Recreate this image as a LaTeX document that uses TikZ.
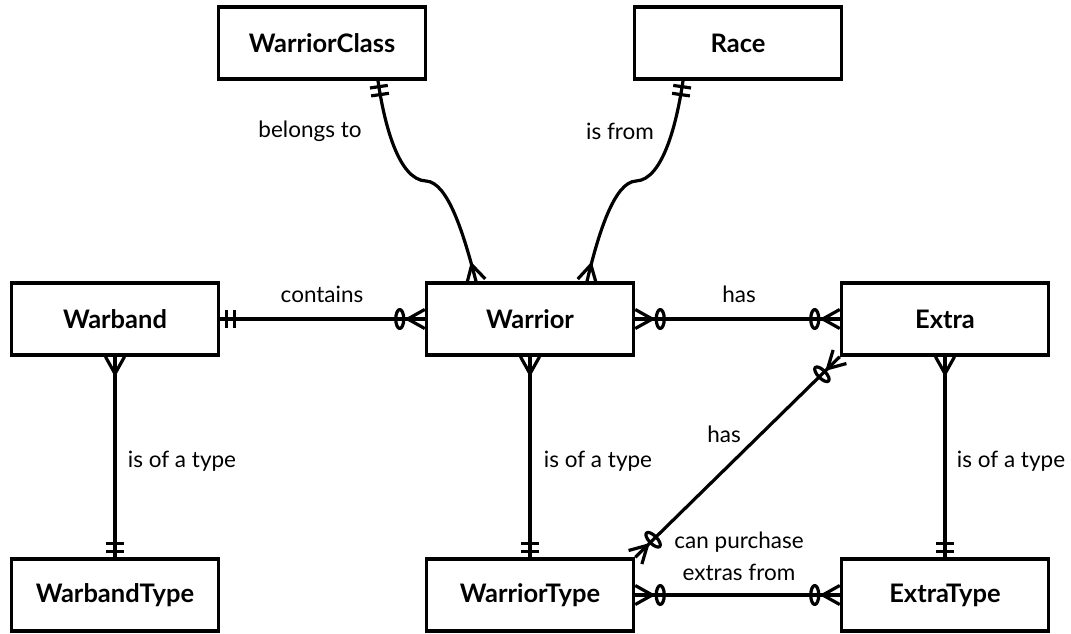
\documentclass[tikz,border=0pt]{standalone}
\usepackage{fontspec}
\setmainfont{Lato}
\usetikzlibrary{arrows.meta}

% crow's foot ends (tip sits on the entity border)
\pgfdeclarearrow{
  name = One,
  setup code = {
    \pgfarrowssettipend{0pt}
    \pgfarrowssetlineend{0pt}
    \pgfarrowssetbackend{-16pt}
    \pgfarrowssetvisualbackend{-16pt}
    \pgfarrowshullpoint{0pt}{9pt}
    \pgfarrowshullpoint{-16pt}{-9pt}
  },
  drawing code = {
    \pgfpathmoveto{\pgfqpoint{-6pt}{9pt}}
    \pgfpathlineto{\pgfqpoint{-6pt}{-9pt}}
    \pgfpathmoveto{\pgfqpoint{-14pt}{9pt}}
    \pgfpathlineto{\pgfqpoint{-14pt}{-9pt}}
    \pgfusepathqstroke
  }
}
\pgfdeclarearrow{
  name = Many,
  setup code = {
    \pgfarrowssettipend{0pt}
    \pgfarrowssetlineend{0pt}
    \pgfarrowssetbackend{-18pt}
    \pgfarrowssetvisualbackend{-18pt}
    \pgfarrowshullpoint{0pt}{10pt}
    \pgfarrowshullpoint{-18pt}{-10pt}
  },
  drawing code = {
    \pgfsetroundjoin
    \pgfpathmoveto{\pgfqpoint{0pt}{9.5pt}}
    \pgfpathlineto{\pgfqpoint{-17pt}{0pt}}
    \pgfpathlineto{\pgfqpoint{0pt}{-9.5pt}}
    \pgfusepathqstroke
  }
}
\pgfdeclarearrow{
  name = ZeroMany,
  setup code = {
    \pgfarrowssettipend{0pt}
    \pgfarrowssetlineend{0pt}
    \pgfarrowssetbackend{-31pt}
    \pgfarrowssetvisualbackend{-31pt}
    \pgfarrowshullpoint{0pt}{10pt}
    \pgfarrowshullpoint{-31pt}{-10pt}
  },
  drawing code = {
    \pgfsetroundjoin
    \pgfpathmoveto{\pgfqpoint{0pt}{9.5pt}}
    \pgfpathlineto{\pgfqpoint{-17pt}{0pt}}
    \pgfpathlineto{\pgfqpoint{0pt}{-9.5pt}}
    \pgfusepathqstroke
    \pgfpathellipse{\pgfqpoint{-25pt}{0pt}}{\pgfqpoint{4pt}{0pt}}{\pgfqpoint{0pt}{9.5pt}}
    \pgfusepathqstroke
  }
}

\tikzset{
  entity/.style={draw,line width=3.5pt,minimum width=207pt,minimum height=72pt,
    inner sep=0pt,font=\fontsize{25.5}{30}\selectfont\bfseries},
  lbl/.style={font=\fontsize{22.5}{32}\selectfont,inner sep=0pt,align=center},
  conn/.style={line width=3.2pt}
}

\begin{document}
\begin{tikzpicture}[x=1pt,y=-1pt]
\useasboundingbox (0,0) rectangle (1071,633);
\node[entity] (wclass)   at (322,43)  {WarriorClass};
\node[entity] (race)     at (738,43)  {Race};
\node[entity] (warband)  at (115,319) {Warband};
\node[entity] (warrior)  at (530,319) {Warrior};
\node[entity] (extra)    at (945,319) {Extra};
\node[entity] (bandtype) at (115,595) {WarbandType};
\node[entity] (wtype)    at (530,595) {WarriorType};
\node[entity] (xtype)    at (945,595) {ExtraType};

\draw[conn,One-Many] ([xshift=56pt]wclass.south)
  .. controls (384,122) and (398,180) .. (426,181)
  .. controls (448,182) and (464,235) .. ([xshift=-54pt]warrior.north);
\draw[conn,One-Many] ([xshift=-55pt]race.south)
  .. controls (677,122) and (663,180) .. (636,181)
  .. controls (614,182) and (598,235) .. ([xshift=57pt]warrior.north);
\draw[conn,One-ZeroMany] (warband) -- (warrior);
\draw[conn,ZeroMany-ZeroMany] (warrior) -- (extra);
\draw[conn,Many-One] (warband) -- (bandtype);
\draw[conn,Many-One] (warrior) -- (wtype);
\draw[conn,Many-One] (extra) -- (xtype);
\draw[conn,ZeroMany-ZeroMany] (wtype.north east) -- (extra.south west);
\draw[conn,ZeroMany-ZeroMany] (wtype) -- (xtype);

\node[lbl] (l1) at (310,131) {belongs to};
\node[lbl] (l2) at (620,131) {is from};
\node[lbl] (l3) at (322,294) {contains};
\node[lbl] (l4) at (739,294) {has};
\node[lbl] (l5) at (182,461) {is of a type};
\node[lbl] (l6) at (598,461) {is of a type};
\node[lbl] (l7) at (1011,461) {is of a type};
\node[lbl] (l8) at (724,434) {has};
\node[lbl] (l9) at (739,556) {can purchase\\extras from};
\end{tikzpicture}
\end{document}
